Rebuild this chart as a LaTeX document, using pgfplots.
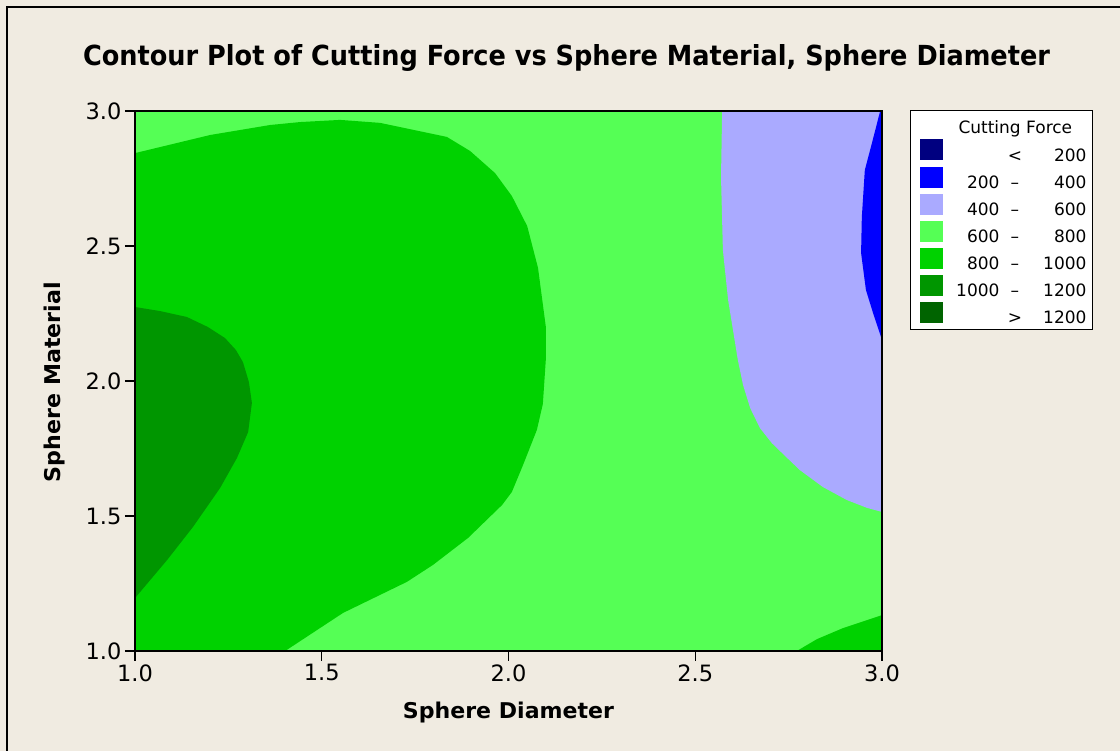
\documentclass[border=0pt]{standalone}
\usepackage{fontspec}
\setmainfont{DejaVu Sans}
\usepackage{graphicx}
\usepackage{pgfplots}
\pgfplotsset{compat=1.18}
\definecolor{bgc}{RGB}{240,235,225}
\definecolor{cnavy}{RGB}{0,0,128}
\definecolor{cblue}{RGB}{0,0,255}
\definecolor{clblue}{RGB}{170,170,255}
\definecolor{clgreen}{RGB}{85,255,85}
\definecolor{cgreen}{RGB}{0,210,0}
\definecolor{cdgreen}{RGB}{0,150,0}
\definecolor{cddgreen}{RGB}{0,100,0}
\newcommand{\lgrow}[3]{\makebox[49pt][r]{#1}\makebox[31pt]{#2}\makebox[56pt][r]{#3}}
\begin{document}
\begin{tikzpicture}
\fill[bgc] (0,0) rectangle (1120pt,751pt);
\useasboundingbox (0,0) rectangle (1120pt,751pt);
\draw[line width=1.5pt] (7pt,0) -- (7pt,744pt) -- (1120pt,744pt);
\begin{axis}[
  at={(135pt,100pt)}, anchor=south west,
  scale only axis, width=747pt, height=540pt,
  xmin=1, xmax=3, ymin=1, ymax=3,
  xtick={1,1.5,2,2.5,3}, ytick={1,1.5,2,2.5,3},
  xtick pos=bottom, ytick pos=left,
  tick align=outside, major tick length=10pt,
  tick style={black, line width=1.2pt},
  axis line style={black, line width=1.6pt},
  axis on top,
  /pgf/number format/assume math mode=true,
  /pgf/number format/.cd, fixed, fixed zerofill, precision=1, /pgfplots/.cd,
  ticklabel style={font=\fontsize{22.5pt}{22.5pt}\selectfont},
  title={\resizebox{967pt}{21pt}{\bfseries Contour Plot of Cutting Force vs Sphere Material, Sphere Diameter}},
  title style={at={(axis description cs:0.5777,1.0722)}, anchor=base, inner sep=0pt},
  xlabel={\resizebox{211pt}{16.5pt}{\bfseries Sphere Diameter}},
  xlabel style={at={(axis description cs:0.5,-0.12593)}, anchor=base, inner sep=0pt},
  ylabel={\resizebox{200pt}{16.5pt}{\bfseries Sphere Material}},
  ylabel style={at={(axis description cs:-0.10776,0.498)}, anchor=center, inner sep=0pt},
  legend style={at={(axis description cs:1,1)}, anchor=north west, xshift=28pt, yshift=1pt,
    draw=black, line width=1pt, fill=white, inner xsep=6pt, inner ysep=5pt,
    column sep=8pt, row sep=4pt,
    font=\fontsize{17pt}{17pt}\selectfont,
    nodes={inner sep=0pt}},
  legend cell align=left,
  legend image code/.code={\fill[#1] (3pt,-5pt) rectangle (26pt,16pt);},
]
% 600 - 800 base
\addplot[fill=clgreen, draw=none, forget plot] coordinates {(1,1)(3,1)(3,3)(1,3)} --cycle;
% 800 - 1000 main region
\addplot[fill=cgreen, draw=none, forget plot] coordinates {
(1.0,2.844)(1.201,2.911)(1.361,2.948)(1.442,2.959)(1.549,2.967)(1.656,2.956)
(1.835,2.904)(1.897,2.852)(1.964,2.770)(2.009,2.685)(2.050,2.574)(2.079,2.419)
(2.100,2.200)(2.100,2.081)(2.092,1.915)(2.076,1.819)(2.039,1.689)(2.009,1.589)
(1.983,1.541)(1.892,1.419)(1.798,1.319)(1.728,1.256)(1.557,1.141)
(1.402,1.0)(1.0,1.0)} --cycle;
% 1000 - 1200
\addplot[fill=cdgreen, draw=none, forget plot] coordinates {
(1.0,2.274)(1.067,2.259)(1.139,2.237)(1.195,2.200)(1.241,2.159)(1.270,2.115)
(1.289,2.070)(1.305,1.996)(1.313,1.919)(1.303,1.811)(1.273,1.715)(1.228,1.604)
(1.155,1.459)(1.086,1.337)(1.0,1.196)} --cycle;
% 400 - 600
\addplot[fill=clblue, draw=none, forget plot] coordinates {
(2.572,3.0)(2.569,2.756)(2.574,2.485)(2.588,2.300)(2.601,2.189)(2.614,2.078)
(2.628,1.985)(2.647,1.900)(2.673,1.826)(2.705,1.770)(2.743,1.719)(2.780,1.670)
(2.842,1.607)(2.906,1.559)(2.960,1.530)(3.0,1.515)(3.0,3.0)} --cycle;
% 200 - 400
\addplot[fill=cblue, draw=none, forget plot] coordinates {
(2.995,3.0)(2.987,2.956)(2.973,2.881)(2.954,2.781)(2.946,2.607)(2.944,2.474)
(2.957,2.337)(2.976,2.252)(3.0,2.152)(3.0,3.0)} --cycle;
% 800 - 1000 bottom right
\addplot[fill=cgreen, draw=none, forget plot] coordinates {
(2.772,1.0)(2.826,1.044)(2.896,1.085)(3.0,1.133)(3.0,1.0)} --cycle;
% legend
\addlegendimage{empty legend}
\addlegendentry{\rule[-17pt]{0pt}{35.5pt}\hspace*{8pt}Cutting Force}
\addlegendimage{fill=cnavy, draw=none}
\addlegendentry{\lgrow{}{<}{200}}
\addlegendimage{fill=cblue, draw=none}
\addlegendentry{\lgrow{200}{--}{400}}
\addlegendimage{fill=clblue, draw=none}
\addlegendentry{\lgrow{400}{--}{600}}
\addlegendimage{fill=clgreen, draw=none}
\addlegendentry{\lgrow{600}{--}{800}}
\addlegendimage{fill=cgreen, draw=none}
\addlegendentry{\lgrow{800}{--}{1000}}
\addlegendimage{fill=cdgreen, draw=none}
\addlegendentry{\lgrow{1000}{--}{1200}}
\addlegendimage{fill=cddgreen, draw=none}
\addlegendentry{\lgrow{}{>}{1200}}
\end{axis}
\end{tikzpicture}
\end{document}
